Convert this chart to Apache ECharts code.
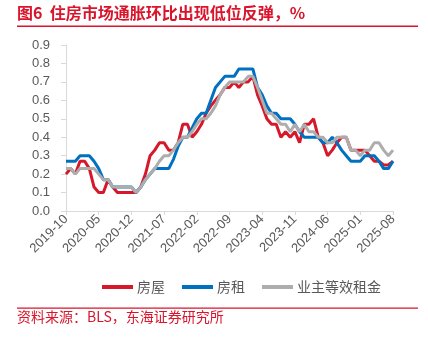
<!DOCTYPE html>
<html>
<head>
<meta charset="utf-8">
<script src="https://cdn.jsdelivr.net/npm/echarts@6/dist/echarts.min.js"></script>
<style>
html,body{margin:0;padding:0;background:#fff;}
#chart{width:428px;height:339px;}
</style>
</head>
<body>
<div id="chart"></div>
<script>
// Categories: monthly 2019-10 .. 2025-08
var startYear = 2019, startMonth = 10, monthCount = 71;
var categories = [];
for (var k = 0; k < monthCount; k++) {
  var m = startMonth - 1 + k;
  var y = startYear + Math.floor(m / 12);
  var mm = (m % 12) + 1;
  categories.push(y + '-' + (mm < 10 ? '0' + mm : mm));
}

var seriesNames = ['房屋', '房租', '业主等效租金'];

var housing = [
  0.20, 0.23, 0.20, 0.27, 0.27, 0.23, 0.13, 0.10, 0.10, 0.17,
  0.13, 0.10, 0.10, 0.10, 0.10, 0.10, 0.13, 0.20, 0.30, 0.33,
  0.37, 0.37, 0.33, 0.33, 0.37, 0.47, 0.47, 0.40, 0.43, 0.47,
  0.53, 0.57, 0.60, 0.63, 0.67, 0.67, 0.70, 0.67, 0.70, 0.70,
  0.73, 0.63, 0.57, 0.50, 0.47, 0.47, 0.40, 0.43, 0.40, 0.43,
  0.37, 0.47, 0.47, 0.50, 0.40, 0.37, 0.30, 0.33, 0.37, 0.40,
  0.40, 0.33, 0.33, 0.33, 0.33, 0.30, 0.27, 0.27, 0.25, 0.25,
  0.27
];

var rent = [
  0.27, 0.27, 0.27, 0.30, 0.30, 0.30, 0.27, 0.23, 0.17, 0.17,
  0.13, 0.13, 0.13, 0.13, 0.13, 0.10, 0.13, 0.17, 0.20, 0.23,
  0.23, 0.23, 0.23, 0.28, 0.35, 0.40, 0.40, 0.45, 0.50, 0.53,
  0.53, 0.60, 0.67, 0.70, 0.73, 0.73, 0.73, 0.77, 0.77, 0.77,
  0.77, 0.67, 0.63, 0.57, 0.53, 0.53, 0.50, 0.50, 0.50, 0.47,
  0.43, 0.40, 0.40, 0.40, 0.40, 0.37, 0.37, 0.40, 0.37, 0.33,
  0.30, 0.27, 0.27, 0.27, 0.30, 0.30, 0.30, 0.27, 0.23, 0.23,
  0.27
];

var oer = [
  0.23, 0.23, 0.20, 0.23, 0.23, 0.23, 0.23, 0.20, 0.17, 0.17,
  0.13, 0.13, 0.13, 0.13, 0.13, 0.10, 0.13, 0.17, 0.20, 0.23,
  0.27, 0.30, 0.30, 0.33, 0.37, 0.40, 0.40, 0.43, 0.47, 0.50,
  0.50, 0.53, 0.57, 0.63, 0.67, 0.70, 0.70, 0.70, 0.70, 0.73,
  0.73, 0.67, 0.60, 0.53, 0.53, 0.50, 0.47, 0.47, 0.43, 0.47,
  0.43, 0.47, 0.43, 0.43, 0.40, 0.40, 0.37, 0.37, 0.40, 0.40,
  0.40, 0.33, 0.33, 0.30, 0.33, 0.33, 0.37, 0.37, 0.33, 0.30,
  0.33
];

var yTicks = [0, 0.1, 0.2, 0.3, 0.4, 0.5, 0.6, 0.7, 0.8, 0.9];

var titleText = '图6  住房市场通胀环比出现低位反弹，%';
var sourceText = '资料来源：BLS，东海证券研究所';

var FONT = "'Liberation Sans', Arial, 'Noto Sans CJK SC', sans-serif";
var RED = '#D9142B';
var TXT = '#595959';
var AXIS = '#D9D9D9';

var chart = echarts.init(document.getElementById('chart'), null, {renderer: 'canvas'});
chart.setOption({
  animation: false,
  backgroundColor: '#ffffff',
  textStyle: {fontFamily: FONT},
  grid: {left: 66, right: 35, top: 45, bottom: 128, containLabel: false},
  graphic: [
    {type: 'text', left: 17, top: 5, style: {text: titleText, fill: RED, font: "bold 16px 'Noto Sans CJK SC', sans-serif"}},
    {type: 'rect', shape: {x: 17, y: 25.5, width: 401, height: 1.6}, style: {fill: RED}},
    {type: 'rect', shape: {x: 17, y: 307.5, width: 401, height: 1.2}, style: {fill: RED}},
    {type: 'text', left: 17, top: 310, style: {text: sourceText, fill: RED, font: "14px 'Noto Sans CJK SC', sans-serif"}}
  ],
  legend: {
    data: seriesNames,
    left: 97,
    top: 275,
    icon: 'rect',
    itemWidth: 31,
    itemHeight: 4,
    itemGap: 17,
    textStyle: {color: TXT, fontSize: 14, fontFamily: "'Noto Sans CJK SC', sans-serif", padding: [0, 0, 0, -1]}
  },
  xAxis: {
    type: 'category',
    data: categories,
    boundaryGap: false,
    axisLine: {show: true, lineStyle: {color: AXIS, width: 1}},
    axisTick: {show: true, interval: 6, length: 4, lineStyle: {color: AXIS}},
    axisLabel: {interval: 6, rotate: 45, color: TXT, fontSize: 13, fontFamily: FONT, margin: 6},
    splitLine: {show: false}
  },
  yAxis: {
    type: 'value',
    min: 0,
    max: 0.9,
    interval: 0.1,
    axisLine: {show: true, lineStyle: {color: AXIS, width: 1}},
    axisTick: {show: true, length: 5, lineStyle: {color: AXIS}},
    axisLabel: {color: TXT, fontSize: 13, fontFamily: FONT, margin: 16,
      formatter: function (v) { return v.toFixed(1); }},
    splitLine: {show: false}
  },
  series: [
    {name: seriesNames[0], type: 'line', data: housing, showSymbol: false, symbol: 'none',
      lineStyle: {color: '#D7182A', width: 3}, itemStyle: {color: '#D7182A'}, z: 3},
    {name: seriesNames[1], type: 'line', data: rent, showSymbol: false, symbol: 'none',
      lineStyle: {color: '#0070C0', width: 3}, itemStyle: {color: '#0070C0'}, z: 4},
    {name: seriesNames[2], type: 'line', data: oer, showSymbol: false, symbol: 'none',
      lineStyle: {color: '#ADADAD', width: 3}, itemStyle: {color: '#ADADAD'}, z: 5}
  ]
});
</script>
</body>
</html>
